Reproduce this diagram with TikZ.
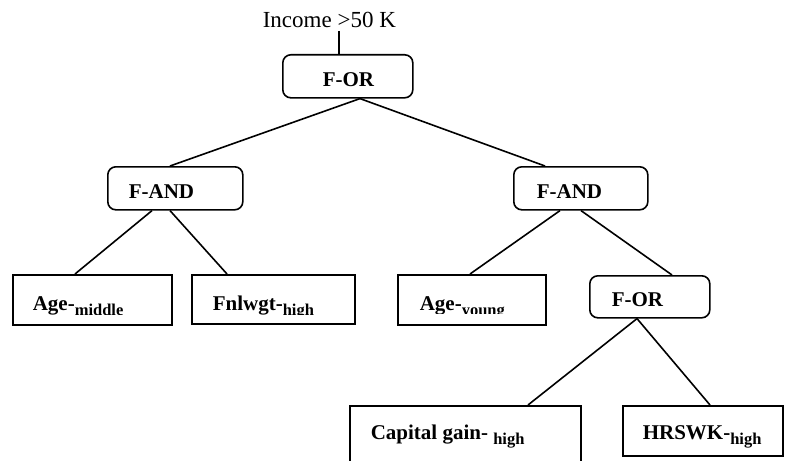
\documentclass[tikz,border=0pt]{standalone}
\usepackage{fontspec}
\setmainfont{Liberation Serif}
\usetikzlibrary{calc}
\newcommand\subfnt{\fontsize{16.5}{19}\selectfont}
\begin{document}
\begin{tikzpicture}[x=1pt,y=-1pt,line width=1.6pt,
  gatebox/.style={draw,rounded corners=8pt,inner sep=0pt,anchor=north west},
  leafbox/.style={draw,inner sep=0pt,anchor=north west},
  lbl/.style={inner sep=0pt,anchor=base west,font=\fontsize{21}{25}\selectfont\bfseries},
  toplbl/.style={inner sep=0pt,anchor=base west,font=\fontsize{23}{27}\selectfont}]
\clip (0,0) rectangle (794,460);
\useasboundingbox (0,0) rectangle (794,460);
% boxes
\node[gatebox,minimum width=130pt,minimum height=43pt] (r) at (282,54) {};
\node[gatebox,minimum width=135pt,minimum height=43pt] (al) at (107,166) {};
\node[gatebox,minimum width=134pt,minimum height=43pt] (ar) at (513,166) {};
\node[gatebox,minimum width=120pt,minimum height=42pt] (o2) at (589,275) {};
\node[leafbox,minimum width=159pt,minimum height=50pt] (am) at (12,274) {};
\node[leafbox,minimum width=163pt,minimum height=49pt] (fn) at (191,274) {};
\node[leafbox,minimum width=148pt,minimum height=50pt] (ay) at (397,274) {};
\node[leafbox,minimum width=231pt,minimum height=80pt] (cg) at (349,405) {};
\node[leafbox,minimum width=160pt,minimum height=50pt] (hr) at (622,405) {};
% texts
\node[toplbl] (inc) at (262,28) {Income >50 K};
\coordinate (incfoot) at (339,31);
\node[lbl] (tr) at (322,86.7) {F-OR};
\node[lbl] (tal) at (128,198) {F-AND};
\node[lbl] (tar) at (536,198) {F-AND};
\node[lbl] (to2) at (611,306) {F-OR};
\begin{scope}
\clip (12,274) rectangle (171,314);
\node[lbl] (tam) at (32,310) {Age-\raisebox{-5pt}{\subfnt middle}};
\end{scope}
\begin{scope}
\clip (191,274) rectangle (354,314.5);
\node[lbl] (tfn) at (212,310) {Fnlwgt-\raisebox{-5pt}{\subfnt high}};
\end{scope}
\begin{scope}
\clip (397,274) rectangle (545,313.5);
\node[lbl] (tay) at (419,310) {Age-\raisebox{-5pt}{\subfnt young}};
\end{scope}
\node[lbl] (tcg) at (370,439) {Capital gain- \raisebox{-5pt}{\subfnt high}};
\node[lbl] (thr) at (642,439) {HRSWK-\raisebox{-5pt}{\subfnt high}};
% connectors
\draw (incfoot) -- ($(r.north west)+(57,0)$);
\draw ($(r.south west)+(78,0)$) -- ($(al.north west)+(63,0)$);
\draw ($(r.south west)+(78,0)$) -- ($(ar.north west)+(32,0)$);
\draw ($(al.south west)+(45,0)$) -- ($(am.north west)+(63,0)$);
\draw ($(al.south west)+(63,0)$) -- ($(fn.north west)+(36,0)$);
\draw ($(ar.south west)+(47,0)$) -- ($(ay.north west)+(73,0)$);
\draw ($(ar.south west)+(68,0)$) -- ($(o2.north west)+(83,0)$);
\draw ($(o2.south west)+(48,0)$) -- ($(cg.north west)+(179,0)$);
\draw ($(o2.south west)+(48,0)$) -- ($(hr.north west)+(88,0)$);
\end{tikzpicture}
\end{document}
